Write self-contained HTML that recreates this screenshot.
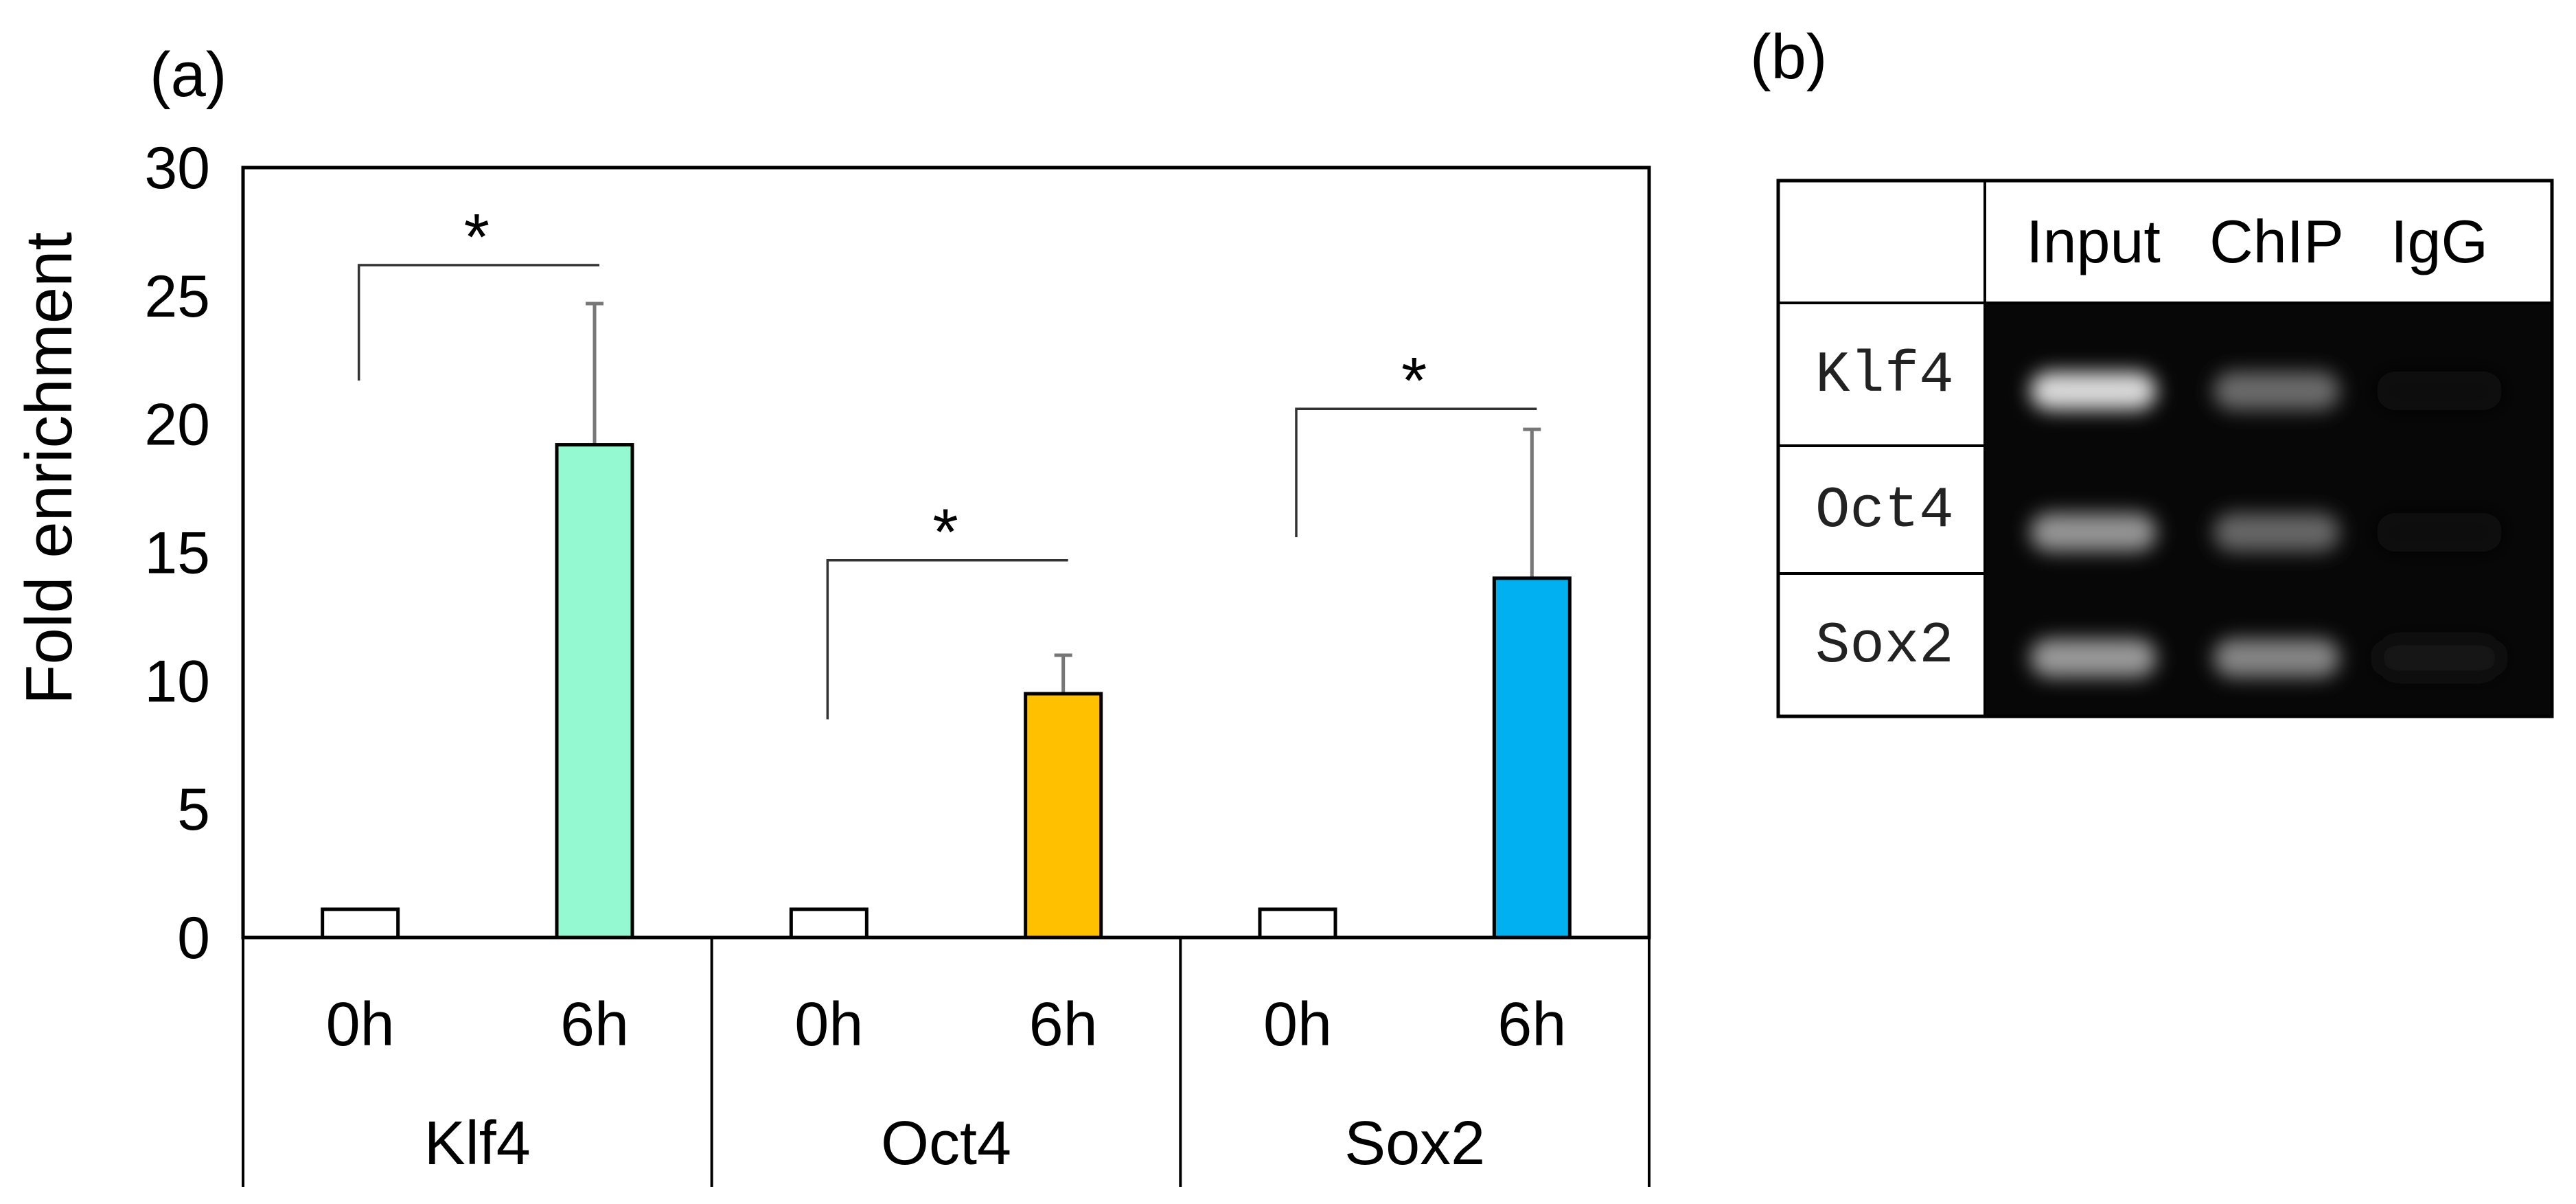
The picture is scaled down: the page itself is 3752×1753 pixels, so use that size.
<!DOCTYPE html>
<html><head><meta charset="utf-8">
<style>
html,body{margin:0;padding:0;background:#fff;}
svg{display:block;font-family:"Liberation Sans",sans-serif;}
</style></head>
<body>
<svg id="fig" width="3752" height="1753" viewBox="0 0 3752 1753" xmlns="http://www.w3.org/2000/svg">
<defs>
<filter id="blur" x="-50%" y="-100%" width="200%" height="300%"><feGaussianBlur stdDeviation="14"/></filter>
</defs>
<text x="218" y="140" font-size="92">(a)</text>
<text x="2549" y="114" font-size="92">(b)</text>
<g id="chart"></g>
<g id="gel"></g>
</svg>
<script>
const groups = ["Klf4","Oct4","Sox2"];
const times = ["0h","6h"];
const values0h = [1.1, 1.1, 1.1];
const values6h = [19.2, 9.5, 14.0];
const errors6h = [5.5, 1.5, 5.8];
const colors6h = ["#94f9d0","#ffc000","#00b0f0"];
const yTicks = [0,5,10,15,20,25,30];
const sigBracketY = [26.2, 14.7, 20.6];
const sigBracketLeftBottom = [21.7, 8.5, 15.6];

const NS="http://www.w3.org/2000/svg";
const chart=document.getElementById('chart');
const X0=354, X1=2402, YT=244, YB=1365, BOT=1728, YMAX=30;
const gw=(X1-X0)/groups.length;
function y(v){return YB-(v/YMAX)*(YB-YT);}
function gx(i,frac){return X0+gw*i+gw*frac;}
function el(tag,attrs,parent){const e=document.createElementNS(NS,tag);for(const k in attrs)e.setAttribute(k,attrs[k]);(parent||chart).appendChild(e);return e;}

const frame=el('rect',{x:X0,y:YT,width:X1-X0,height:YB-YT,fill:'none',stroke:'#000','stroke-width':5});


for(let i=0;i<=groups.length;i++){
  const ln=el('line',{x1:X0+gw*i,x2:X0+gw*i,y1:YB,y2:BOT,stroke:'#000','stroke-width':4});
  
  
}
yTicks.forEach(t=>{
  const tx=el('text',{x:306,y:y(t)+30,'font-size':86,'text-anchor':'end'});
  tx.textContent=t;
  
  
});
const yt=el('text',{x:0,y:0,'font-size':96,'text-anchor':'middle',transform:'translate(104,682) rotate(-90)'});
yt.textContent='Fold enrichment';



const BW=110;
groups.forEach((g,i)=>{
  const c0=gx(i,0.25), c1=gx(i,0.75);
  const b0=el('rect',{x:c0-BW/2,y:y(values0h[i]),width:BW,height:YB-y(values0h[i]),fill:'#fff',stroke:'#000','stroke-width':5});
  
  
  const top=values6h[i]+errors6h[i];
  const e1=el('line',{x1:c1,x2:c1,y1:y(top),y2:y(values6h[i]),stroke:'#777','stroke-width':5});
  
  
  const e2=el('line',{x1:c1-13,x2:c1+13,y1:y(top),y2:y(top),stroke:'#777','stroke-width':5});
  
  
  const b1=el('rect',{x:c1-BW/2,y:y(values6h[i]),width:BW,height:YB-y(values6h[i]),fill:colors6h[i],stroke:'#000','stroke-width':5});
  
  
  const bx=c0-2;
  const br=el('polyline',{points:`${bx},${y(sigBracketLeftBottom[i])} ${bx},${y(sigBracketY[i])} ${c1+7},${y(sigBracketY[i])}`,fill:'none',stroke:'#333','stroke-width':3.5});
  
  
  const st=el('text',{x:(bx+c1)/2,y:y(sigBracketY[i])-8,'font-size':96,'text-anchor':'middle'});
  st.textContent='*';
  
  
  times.forEach((t,j)=>{
    const tl=el('text',{x:j?c1:c0,y:1522,'font-size':90,'text-anchor':'middle'});
    tl.textContent=t;
    
    
  });
  const gl=el('text',{x:gx(i,0.5),y:1695,'font-size':90,'text-anchor':'middle'});
  gl.textContent=g;
  
  
});

// gel panel
const gel=document.getElementById('gel');
const lanes=["Input","ChIP","IgG"];
const laneX=[3049,3316,3553];
const rowY=[569,775,958];
const bandIntensity=[[0.85,0.42,0.05],[0.58,0.4,0.06],[0.6,0.52,0.07]];
const L=2590,R=3717,T=263,H=441,GX=2891,Bt=1043,rows=[441,649,835,1043];
const bg=el('rect',{x:GX,y:H,width:R-GX,height:Bt-H,fill:'#070707'},gel);


groups.forEach((g,r)=>{
  lanes.forEach((ln,c)=>{
    const v=bandIntensity[r][c];
    const gv=Math.round(255*v);
    const b=el('rect',{x:laneX[c]-92,y:rowY[r]-28,width:184,height:56,rx:28,fill:`rgb(${gv},${gv},${gv})`,filter:'url(#blur)'},gel);
    
    
  });
  const t=el('text',{x:2644,y:(rows[r]+rows[r+1])/2+24,'font-size':84,'font-family':'"Liberation Mono",monospace',fill:'#222'},gel);
  t.textContent=g;
  
  
});
lanes.forEach((ln,c)=>{
  const t=el('text',{x:laneX[c],y:382,'font-size':88,'text-anchor':'middle'},gel);
  t.textContent=ln;
  
  
});
const f=el('rect',{x:L,y:T,width:R-L,height:Bt-T,fill:'none',stroke:'#000','stroke-width':5},gel);


const v=el('line',{x1:GX,x2:GX,y1:T,y2:Bt,stroke:'#000','stroke-width':4},gel);


rows.slice(0,3).forEach(ry=>{
  const h=el('line',{x1:L,x2:ry===H?R:GX,y1:ry,y2:ry,stroke:'#000','stroke-width':4},gel);
  
  
});
</script>
</body></html>
